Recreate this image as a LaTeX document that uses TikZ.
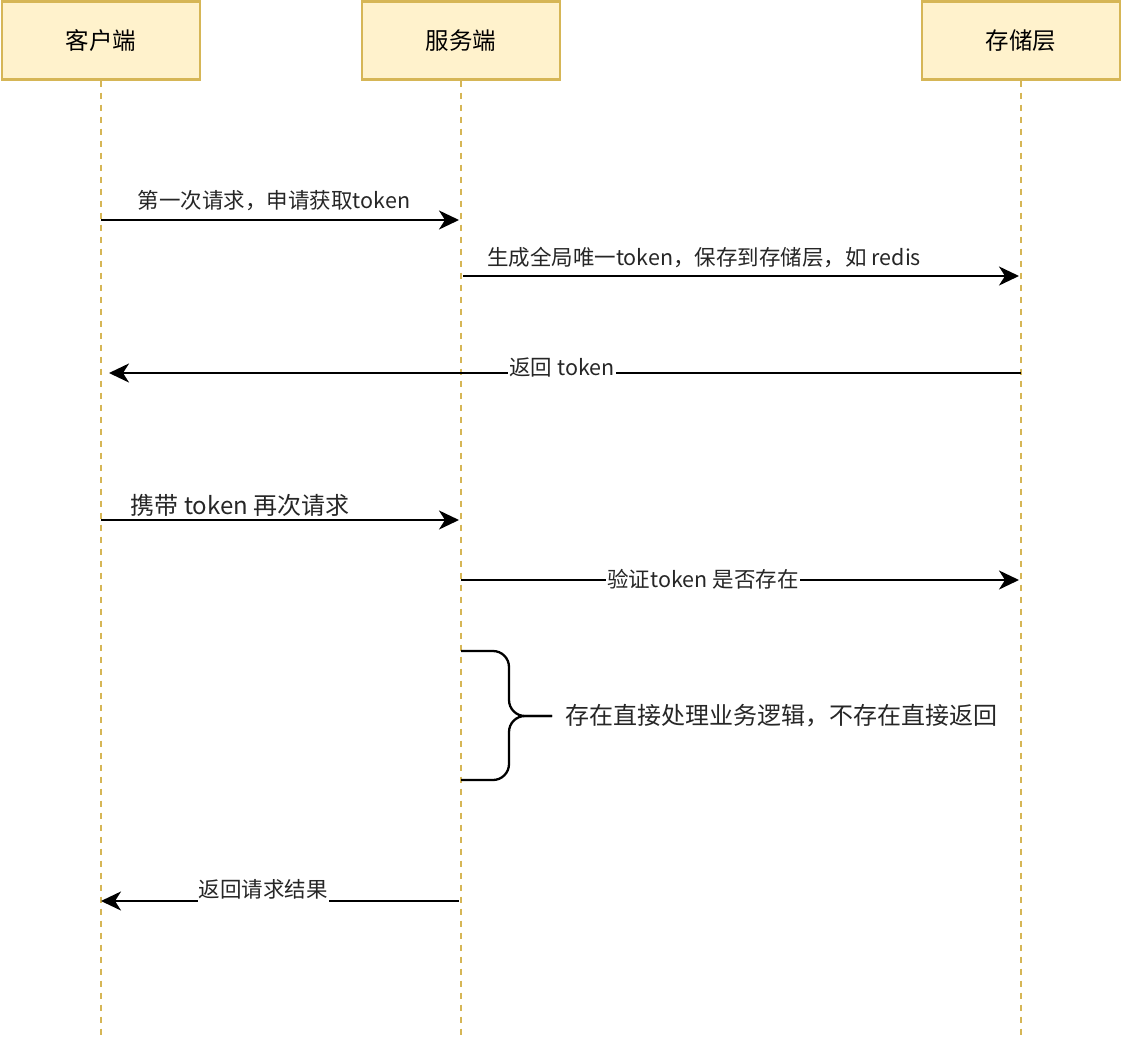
\documentclass[tikz,border=0pt]{standalone}
\usepackage{fontspec}
\newfontfamily\cjk{Noto Sans CJK SC}
\usetikzlibrary{arrows.meta, positioning}
\definecolor{lanegold}{HTML}{D6B656}
\definecolor{lanefill}{HTML}{FFF2CC}
\tikzset{
    % Participants - yellow boxes
    participant/.style={rectangle, draw=lanegold, fill=lanefill, line width=2.2pt,
        minimum width=198pt, minimum height=78pt, font=\cjk\fontsize{23.5}{28}\selectfont},
    % Lifelines - gold dashed lines
    lifeline/.style={draw=lanegold, line width=2.2pt, dash pattern=on 6pt off 6pt},
    % Messages - black arrows
    message/.style={line width=2.3pt, -{Stealth[length=20pt, width=19pt, inset=6pt]}},
    % Message labels
    msg label/.style={inner xsep=1pt, inner ysep=4pt, text=black!85, font=\cjk\fontsize{21.5}{26}\selectfont},
    big label/.style={inner xsep=1pt, inner ysep=4pt, text=black!85, font=\cjk\fontsize{24}{28}\selectfont},
    % Labels sitting on the line
    on line/.style={fill=white},
    % Curly bracket
    bracket/.style={line width=2.3pt, rounded corners=16pt}
}

\begin{document}
\begin{tikzpicture}[x=1pt, y=-1pt]
    \useasboundingbox (0,0) rectangle (1122,1042);

    % --- Participants ---
    \node[participant] (client) at (101,40.5) {客户端};
    \node[participant] (server) at (461,40.5) {服务端};
    \node[participant] (store) at (1021,40.5) {存储层};

    % --- Lifelines ---
    \coordinate (clientEnd) at (101,1036);
    \coordinate (serverEnd) at (461,1036);
    \coordinate (storeEnd) at (1021,1036);
    \draw[lifeline] (client.south) -- (clientEnd);
    \draw[lifeline] (server.south) -- (serverEnd);
    \draw[lifeline] (store.south) -- (storeEnd);

    % --- Message end points ---
    \coordinate (m1a) at (101,220);
    \coordinate (m1b) at (459,220);
    \coordinate (m2a) at (463,276);
    \coordinate (m2b) at (1019,276);
    \coordinate (m3a) at (1021,373);
    \coordinate (m3b) at (109,373);
    \coordinate (m4a) at (101,520);
    \coordinate (m4b) at (459,520);
    \coordinate (m5a) at (461,580);
    \coordinate (m5b) at (1019,580);
    \coordinate (m7a) at (459,901);
    \coordinate (m7b) at (101,901);

    % --- Messages ---
    \draw[message] (m1a) -- (m1b);
    \draw[message] (m2a) -- (m2b);
    \draw[message] (m3a) -- (m3b);
    \draw[message] (m4a) -- (m4b);
    \draw[message] (m5a) -- (m5b);
    \draw[message] (m7a) -- (m7b);

    \node[msg label] (l1) at (274,201) {第一次请求，申请获取token};
    \node[msg label] (l2) at (704,257) {生成全局唯一token，保存到存储层，如 redis};
    \node[msg label, on line] (l3) at (562,367) {返回 token};
    \node[big label] (l4) at (240,505) {携带 token 再次请求};
    \node[msg label, on line] (l5) at (703,579) {验证token 是否存在};
    \node[msg label, on line] (l7) at (263,889) {返回请求结果};

    % --- Bracket on the server side ---
    \coordinate (braceTop) at (461,651);
    \coordinate (braceBot) at (461,780);
    \coordinate (braceMid) at (509,716);
    \coordinate (braceTip) at (552,716);
    \draw[bracket] (braceTop) -| (braceMid) -- (braceTip);
    \draw[bracket] (braceBot) -| (braceMid) -- (braceTip);
    \node[big label, right=12pt of braceTip] (result) {存在直接处理业务逻辑，不存在直接返回};
\end{tikzpicture}
\end{document}
